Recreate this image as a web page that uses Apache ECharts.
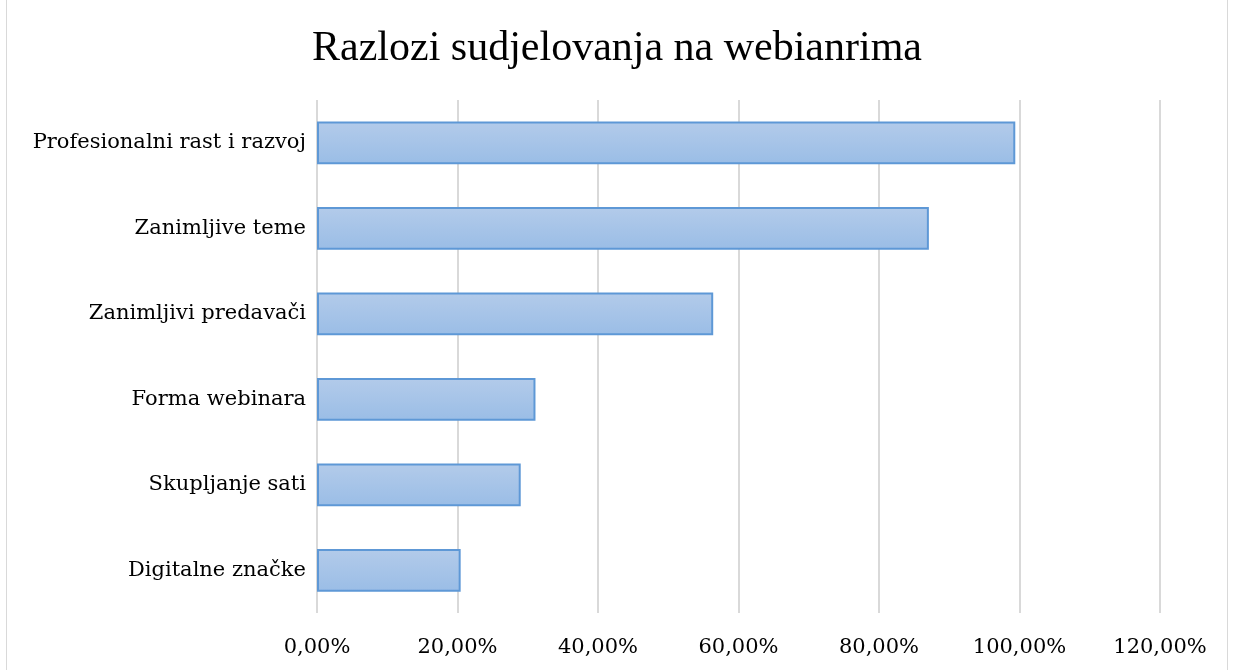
<!DOCTYPE html>
<html>
<head>
<meta charset="utf-8">
<script src="https://cdn.jsdelivr.net/npm/echarts@6/dist/echarts.min.js"></script>
<style>
html, body { margin: 0; padding: 0; background: #fff; }
#chart { position: absolute; left: 6px; top: -2px; width: 1222px; height: 680px; border: 1px solid #d9d9d9; box-sizing: border-box; }
</style>
</head>
<body>
<div id="chart"></div>
<script>
// kategorije i vrijednosti (odozdo prema gore)
var categories = ['Digitalne značke', 'Skupljanje sati', 'Forma webinara', 'Zanimljivi predavači', 'Zanimljive teme', 'Profesionalni rast i razvoj'];
var values = [20.45, 29.0, 31.1, 56.4, 87.1, 99.4];
var xTicks = [0, 20, 40, 60, 80, 100, 120];

var chart = echarts.init(document.getElementById('chart'));
var option = {
	animation: false,
	title: {
		text: 'Razlozi sudjelovanja na webianrima',
		left: 'center',
		top: 24,
		textStyle: {
			fontFamily: 'Liberation Serif',
			fontSize: 42,
			fontWeight: 'normal',
			color: '#000'
		}
	},
	grid: {
		left: 310,
		right: 67,
		top: 101,
		bottom: 64
	},
	xAxis: {
		type: 'value',
		min: xTicks[0],
		max: xTicks[xTicks.length - 1],
		interval: 20,
		axisLine: { show: false },
		axisTick: { show: false },
		splitLine: { lineStyle: { color: '#d9d9d9', width: 2 } },
		axisLabel: {
			margin: 24,
			fontFamily: 'DejaVu Serif',
			fontSize: 21,
			color: '#000',
			formatter: function(v) {
				return v.toFixed(2).replace('.', ',') + '%';
			}
		}
	},
	yAxis: {
		type: 'category',
		data: categories,
		axisLine: { show: false },
		axisTick: { show: false },
		axisLabel: {
			margin: 11,
			fontFamily: 'DejaVu Serif',
			fontSize: 21,
			color: '#000'
		}
	},
	series: [{
		type: 'bar',
		data: values,
		barWidth: '50%',
		itemStyle: {
			color: new echarts.graphic.LinearGradient(0, 0, 0, 1, [
				{ offset: 0, color: '#b3cbea' },
				{ offset: 1, color: '#9abde6' }
			]),
			borderColor: '#5e98d6',
			borderWidth: 2
		}
	}]
};
chart.setOption(option);
</script>
</body>
</html>
